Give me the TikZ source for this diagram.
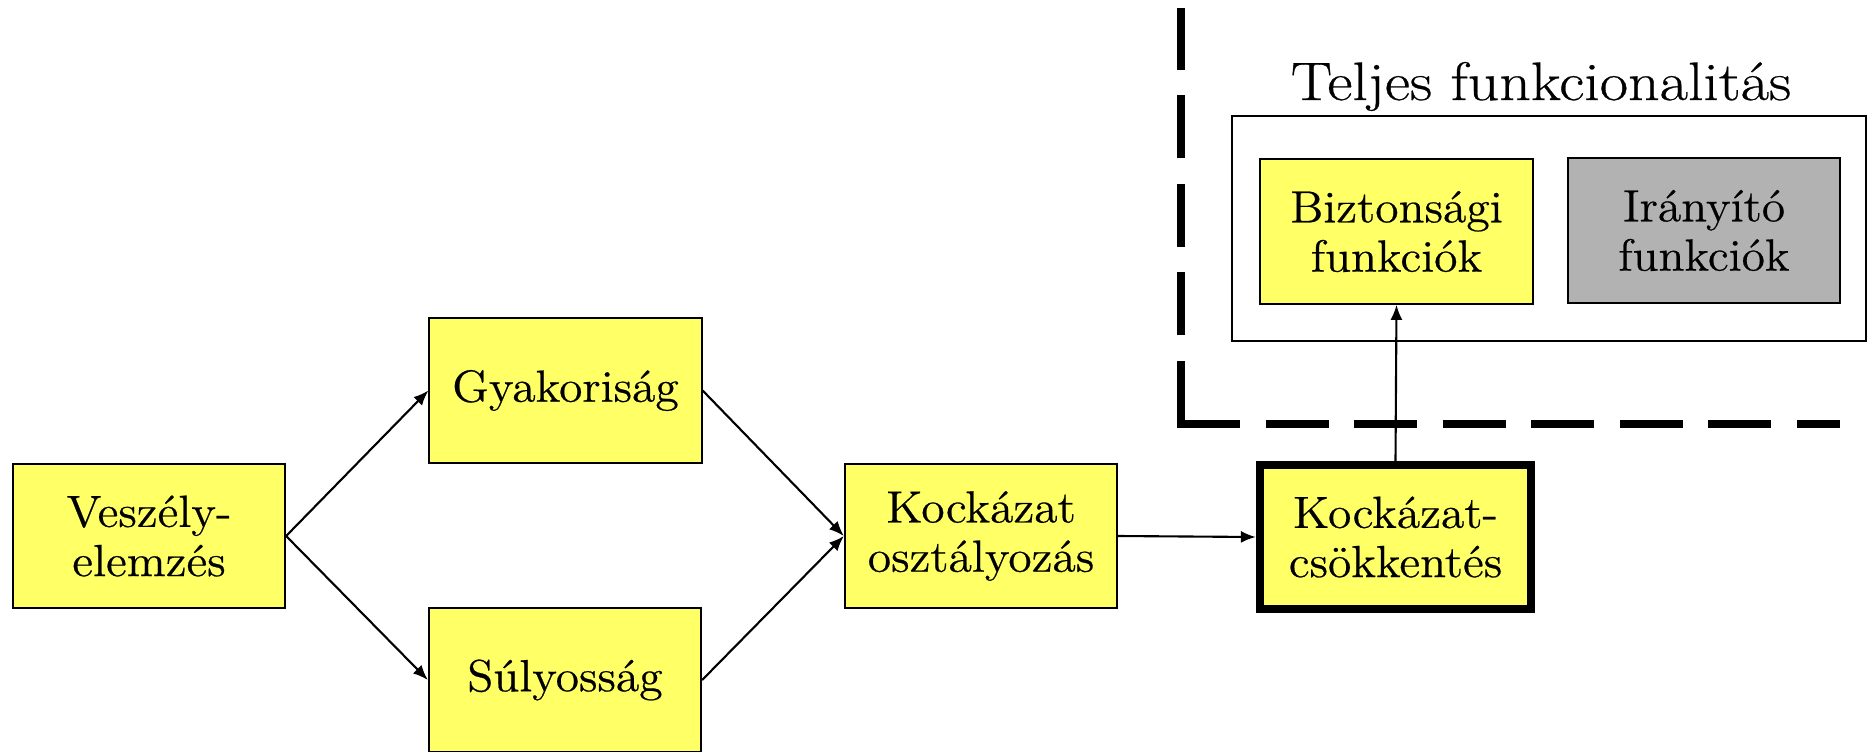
\documentclass[tikz,border=0pt]{standalone}
\usepackage{fontspec}
\setmainfont{Latin Modern Roman}[FakeStretch=1.06, FakeBold=0.5]
\newfontfamily\headfont{Latin Modern Roman}[FakeStretch=1.14, FakeBold=0.5]
\usetikzlibrary{arrows.meta}
\definecolor{boxyellow}{RGB}{255,255,102}
\definecolor{boxgray}{RGB}{178,178,178}
\begin{document}
\begin{tikzpicture}[x=0.01cm,y=-0.01cm,
  box/.style={draw=black, line width=0.6pt, fill=boxyellow,
    minimum width=2.72cm, minimum height=1.445cm, align=center, inner sep=0pt,
    font=\fontsize{12.8pt}{14pt}\selectfont},
  graybox/.style={box, fill=boxgray},
  keybox/.style={box, line width=2.3pt, minimum width=2.71cm, minimum height=1.44cm},
  link/.style={line width=0.6pt, -{Latex[length=0.15cm,width=0.12cm]}},
  border/.style={line width=2.3pt, dash pattern=on 0.63cm off 0.255cm}
]
\useasboundingbox (0,0) rectangle (1869,751);

% process chain
\node[box] (vesz)  at (149,536)   {Veszély-\\elemzés};
\node[box] (gyak)  at (565.5,390.5) {Gyakoriság};
\node[box] (suly)  at (565,680)   {Súlyosság};
\node[box] (oszt)  at (981,536)   {Kockázat\\osztályozás};
\node[keybox] (csokk) at (1395.5,537) {Kockázat-\\csökkentés};

% full functionality group
\node[anchor=base, font=\headfont\fontsize{15.4pt}{18pt}\selectfont] (title) at (1541,100) {Teljes funkcionalitás};
\node[draw, line width=0.6pt, minimum width=6.34cm, minimum height=2.25cm, inner sep=0pt] (frame) at (1549,228.5) {};
\node[box] (bizt) at (1396.5,231.5) {Biztonsági\\funkciók};
\node[graybox] (iran) at (1704,230.5) {Irányító\\funkciók};

% dashed boundary
\coordinate (corner) at (1181,424);
\coordinate (top) at (1181,8);
\coordinate (right) at (1840,424);
\draw[border] (corner) -- (top);
\draw[border] ([xshift=-0.04cm]corner) -- (right);

% connectors
\draw[link] (vesz.east) -- (gyak.west);
\draw[link] (vesz.east) -- (suly.west);
\draw[link] (gyak.east) -- (oszt.west);
\draw[link] (suly.east) -- (oszt.west);
\draw[link] (oszt.east) -- (csokk.west);
\draw[link] (csokk.north) -- (bizt.south);
\end{tikzpicture}
\end{document}
